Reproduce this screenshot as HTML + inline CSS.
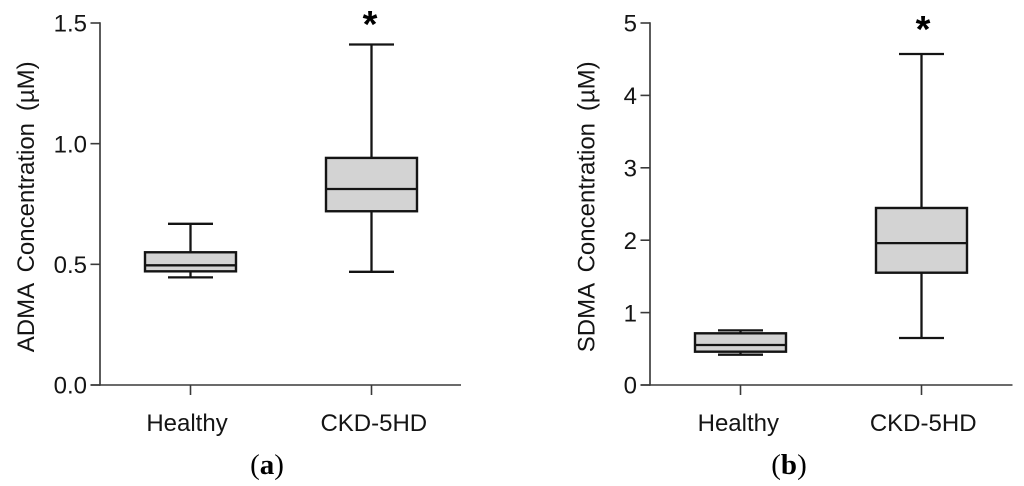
<!DOCTYPE html>
<html>
<head>
<meta charset="utf-8">
<title>ADMA and SDMA box plots</title>
<style>
html,body{margin:0;padding:0;background:#fff;width:1024px;height:486px;overflow:hidden}
svg{display:block}
text{font-family:"Liberation Sans",Arial,sans-serif;fill:#141414}
</style>
</head>
<body>
<svg id="chart" width="1024" height="486" viewBox="0 0 1024 486" xmlns="http://www.w3.org/2000/svg"></svg>
<script>
var categories = ["Healthy", "CKD-5HD"];
// each box: [whisker low, q1, median, q3, whisker high]
var admaHealthy = [0.446, 0.471, 0.496, 0.55, 0.668];
var admaCkd = [0.469, 0.72, 0.812, 0.941, 1.411];
var sdmaHealthy = [0.419, 0.46, 0.552, 0.714, 0.755];
var sdmaCkd = [0.649, 1.551, 1.96, 2.445, 4.572];
var admaTicks = ["0.0", "0.5", "1.0", "1.5"];
var sdmaTicks = ["0", "1", "2", "3", "4", "5"];
var admaMax = 1.5;
var sdmaMax = 5;

var svg = document.getElementById('chart');
var NS = 'http://www.w3.org/2000/svg';

function make(tag, attrs, parent) {
  var el = document.createElementNS(NS, tag);
  for (var k in attrs) el.setAttribute(k, attrs[k]);
  parent.appendChild(el);
  return el;
}

function seg(parent, x1, y1, x2, y2, color, width) {
  return make('line', {x1: x1, y1: y1, x2: x2, y2: y2, stroke: color, 'stroke-width': width}, parent);
}

function drawPanel(cfg) {
  var panel = make('g', {}, svg);
  
  

  var top = 23, bottom = 385;
  var y = function (v) { return bottom - (v / cfg.max) * (bottom - top); };
  var x = function (i) { return cfg.axisX + 90.5 + i * 181; };
  var axisColor = '#3a3a3a', ink = '#141414';

  var yAxis = seg(panel, cfg.axisX, top - 0.8, cfg.axisX, bottom + 0.8, '#4a4a4a', 1.8);
  
  

  var xAxis = seg(panel, cfg.axisX - 9.5, bottom, cfg.axisX + cfg.axisLen, bottom, axisColor, 1.6);
  
  

  cfg.ticks.forEach(function (label) {
    var v = parseFloat(label);
    var tick = seg(panel, cfg.axisX - 9.5, y(v), cfg.axisX, y(v), axisColor, 1.6);
    
    
    var t = make('text', {x: cfg.axisX - 13, y: y(v) + 8.7, 'text-anchor': 'end', 'font-size': 24}, panel);
    
    
    t.textContent = label;
  });

  categories.forEach(function (name, i) {
    var tick = seg(panel, x(i), bottom, x(i), bottom + 10, axisColor, 1.6);
    
    
    var t = make('text', {x: x(i) + cfg.labelShift[i], y: 431, 'text-anchor': 'middle', 'font-size': 24}, panel);
    
    
    t.textContent = name;
  });

  cfg.boxes.forEach(function (b, i) {
    var cx = x(i), half = 45.5, cap = 22.5;
    var g = make('g', {}, panel);
    
    
    seg(g, cx, y(b[0]), cx, y(b[4]), ink, 2.3);
    seg(g, cx - cap, y(b[0]), cx + cap, y(b[0]), ink, 2.3);
    seg(g, cx - cap, y(b[4]), cx + cap, y(b[4]), ink, 2.3);
    make('rect', {x: cx - half, y: y(b[3]), width: half * 2, height: y(b[1]) - y(b[3]), fill: '#d3d3d3', stroke: ink, 'stroke-width': 2.4}, g);
    seg(g, cx - half, y(b[2]), cx + half, y(b[2]), ink, 2.3);
  });

  var yTitle = make('text', {
    transform: 'translate(' + cfg.titleX + ',206.8) rotate(-90)',
    'text-anchor': 'middle', 'font-size': 24
  }, panel);
  
  
  yTitle.style.whiteSpace = 'pre';
  yTitle.style.wordSpacing = '-0.75px';
  yTitle.textContent = cfg.title;

  var star = make('text', {x: cfg.starX, y: cfg.starY, 'text-anchor': 'middle', 'font-size': 38, 'font-weight': 'bold'}, panel);
  
  
  star.style.fill = '#000';
  star.textContent = '*';

  var cap = make('text', {x: cfg.captionX, y: 474, 'text-anchor': 'middle', 'font-size': 29}, panel);
  
  
  cap.style.fontFamily = '"Liberation Serif",serif';
  cap.style.fill = '#000';
  make('tspan', {}, cap).textContent = '(';
  make('tspan', {'font-weight': 'bold'}, cap).textContent = cfg.letter;
  make('tspan', {}, cap).textContent = ')';
}

drawPanel({
  id: 'adma', axisX: 100, axisLen: 361, max: admaMax, ticks: admaTicks,
  boxes: [admaHealthy, admaCkd], title: 'ADMA  Concentration  (µM)',
  labelShift: [-3.5, 2.3],
  titleX: 34, starX: 370, starY: 37, captionX: 267, letter: 'a'
});
drawPanel({
  id: 'sdma', axisX: 650, axisLen: 362.5, max: sdmaMax, ticks: sdmaTicks,
  boxes: [sdmaHealthy, sdmaCkd], title: 'SDMA  Concentration  (µM)',
  labelShift: [-2.2, 1.7],
  titleX: 594.5, starX: 923, starY: 42, captionX: 789, letter: 'b'
});
</script>
</body>
</html>
